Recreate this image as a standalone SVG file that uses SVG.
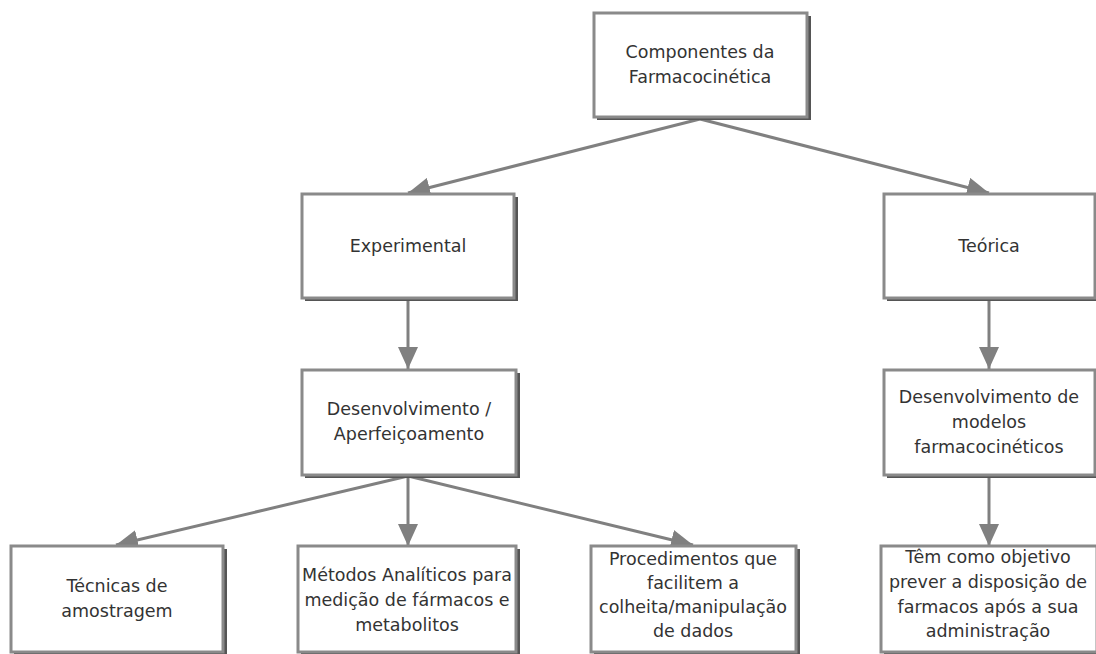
<svg xmlns="http://www.w3.org/2000/svg" width="1096" height="654" viewBox="0 0 1096 654">
  <defs>
    <marker id="arrow" markerUnits="userSpaceOnUse" markerWidth="22" markerHeight="20" refX="22" refY="10" orient="auto" viewBox="0 0 22 20">
      <path d="M0,0 L22,10 L0,20 Z" fill="#808080"/>
    </marker>
  </defs>
  <style>
    .shadow { fill: #555555; }
    .box { fill: #ffffff; stroke: #8a8a8a; stroke-width: 3; }
    .label { font-family: "DejaVu Sans", Verdana, sans-serif; font-size: 17.5px; fill: #333333; text-anchor: middle; }
    .link { stroke: #808080; stroke-width: 3; fill: none; marker-end: url(#arrow); }
  </style>
  <rect width="1096" height="654" fill="#ffffff"/>

  <g id="connectors">
    <path class="link" d="M700,119 L408,193"/>
    <path class="link" d="M700,119 L989,193"/>
    <path class="link" d="M408,299 L408,369"/>
    <path class="link" d="M989,299 L989,369"/>
    <path class="link" d="M408,476 L116,545"/>
    <path class="link" d="M408,476 L408,546"/>
    <path class="link" d="M408,476 L693,545"/>
    <path class="link" d="M989,476 L989,546"/>
  </g>

  <g id="componentes">
    <rect class="shadow" x="597" y="16" width="214" height="104"/>
    <rect class="box" x="594" y="13" width="213" height="104"/>
    <text class="label" x="700" y="58">Componentes da</text>
    <text class="label" x="700" y="83">Farmacocinética</text>
  </g>

  <g id="experimental">
    <rect class="shadow" x="305" y="197" width="213" height="104"/>
    <rect class="box" x="302" y="194" width="212" height="104"/>
    <text class="label" x="408" y="252">Experimental</text>
  </g>

  <g id="teorica">
    <rect class="shadow" x="887" y="197" width="212" height="104"/>
    <rect class="box" x="884" y="194" width="211" height="104"/>
    <text class="label" x="989" y="252">Teórica</text>
  </g>

  <g id="desenvolvimento">
    <rect class="shadow" x="305" y="373" width="215" height="105"/>
    <rect class="box" x="302" y="370" width="214" height="105"/>
    <text class="label" x="409" y="415">Desenvolvimento /</text>
    <text class="label" x="409" y="440">Aperfeiçoamento</text>
  </g>

  <g id="modelos">
    <rect class="shadow" x="887" y="373" width="212" height="105"/>
    <rect class="box" x="884" y="370" width="211" height="105"/>
    <text class="label" x="989" y="403">Desenvolvimento de</text>
    <text class="label" x="989" y="428">modelos</text>
    <text class="label" x="989" y="453">farmacocinéticos</text>
  </g>

  <g id="tecnicas">
    <rect class="shadow" x="14" y="549" width="213" height="106"/>
    <rect class="box" x="11" y="546" width="212" height="106"/>
    <text class="label" x="117" y="592">Técnicas de</text>
    <text class="label" x="117" y="617">amostragem</text>
  </g>

  <g id="metodos">
    <rect class="shadow" x="301" y="549" width="219" height="106"/>
    <rect class="box" x="298" y="546" width="218" height="106"/>
    <text class="label" x="407" y="581">Métodos Analíticos para</text>
    <text class="label" x="407" y="606">medição de fármacos e</text>
    <text class="label" x="407" y="631">metabolitos</text>
  </g>

  <g id="procedimentos">
    <rect class="shadow" x="594" y="549" width="206" height="106"/>
    <rect class="box" x="591" y="546" width="205" height="106"/>
    <text class="label" x="693" y="565">Procedimentos que</text>
    <text class="label" x="693" y="589">facilitem a</text>
    <text class="label" x="693" y="613">colheita/manipulação</text>
    <text class="label" x="693" y="637">de dados</text>
  </g>

  <g id="objetivo">
    <rect class="shadow" x="884" y="549" width="216" height="106"/>
    <rect class="box" x="881" y="546" width="216" height="106"/>
    <text class="label" x="988" y="563">Têm como objetivo</text>
    <text class="label" x="988" y="588">prever a disposição de</text>
    <text class="label" x="988" y="613">farmacos após a sua</text>
    <text class="label" x="988" y="637">administração</text>
  </g>
</svg>
